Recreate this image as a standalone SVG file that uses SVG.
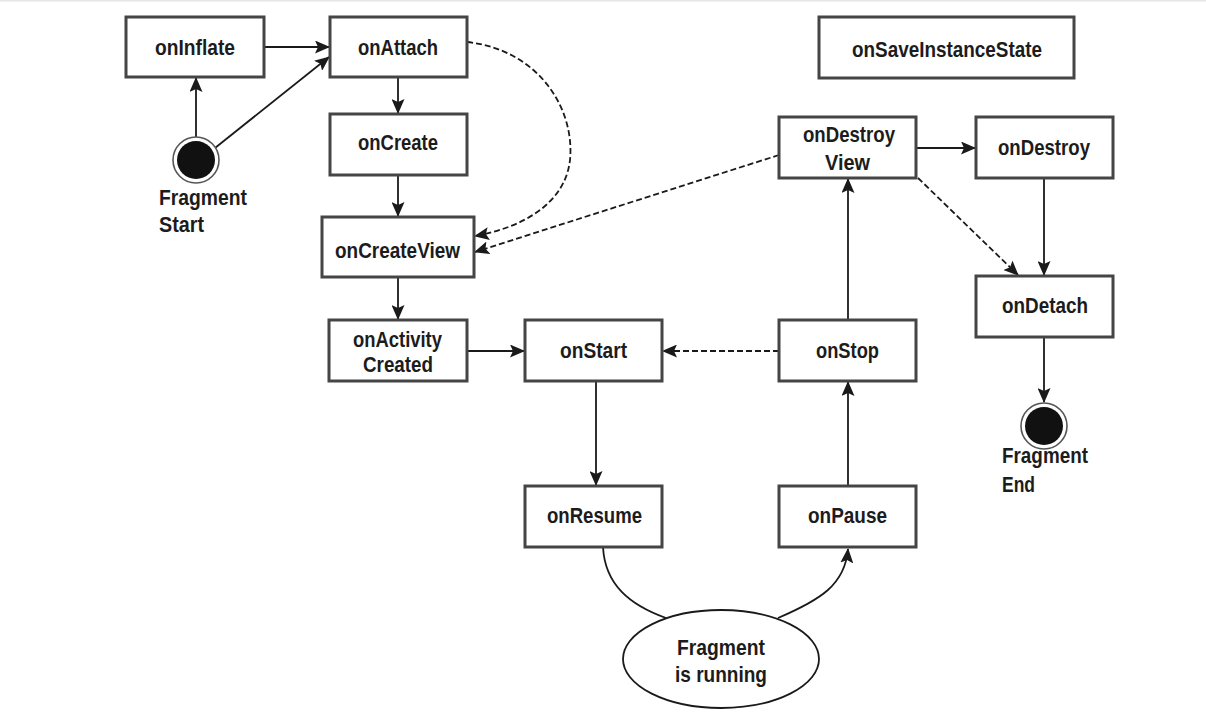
<svg xmlns="http://www.w3.org/2000/svg" width="1206" height="713" viewBox="0 0 1206 713">
  <style>
    .box { fill: #ffffff; stroke: #454545; stroke-width: 3; }
    .lbl { font-family: "Liberation Sans", Arial, sans-serif; font-weight: bold; font-size: 22px; fill: #1c1c1c; }
    .edge { fill: none; stroke: #1a1a1a; stroke-width: 1.8; }
    .dash { stroke-dasharray: 6 3; }
  </style>
  <defs>
    <marker id="arrow" viewBox="0 0 15 13" refX="14" refY="6.5" markerWidth="15" markerHeight="13" markerUnits="userSpaceOnUse" orient="auto">
      <path d="M0,0 L15,6.5 L0,13 L3,6.5 Z" fill="#1a1a1a"/>
    </marker>
  </defs>
  <rect x="0" y="0" width="1206" height="713" fill="#ffffff"/>
  <rect x="0" y="0" width="1206" height="1.5" fill="#e6e6e6"/>

  <!-- connectors -->
  <g id="connectors">
    <line class="edge" x1="264" y1="47" x2="329" y2="47" marker-end="url(#arrow)"/>
    <line class="edge" x1="196" y1="137" x2="196" y2="78" marker-end="url(#arrow)"/>
    <line class="edge" x1="215" y1="148" x2="329" y2="57" marker-end="url(#arrow)"/>
    <line class="edge" x1="398" y1="77" x2="398" y2="113" marker-end="url(#arrow)"/>
    <line class="edge" x1="398" y1="175" x2="398" y2="216" marker-end="url(#arrow)"/>
    <path class="edge dash" d="M467,42 C540,50 575,110 570,160 C565,205 520,228 475,236" marker-end="url(#arrow)"/>
    <line class="edge dash" x1="779" y1="155" x2="475" y2="252" marker-end="url(#arrow)"/>
    <line class="edge" x1="398" y1="277" x2="398" y2="319" marker-end="url(#arrow)"/>
    <line class="edge" x1="467" y1="351" x2="524" y2="351" marker-end="url(#arrow)"/>
    <line class="edge dash" x1="779" y1="351" x2="663" y2="351" marker-end="url(#arrow)"/>
    <line class="edge" x1="596" y1="381" x2="596" y2="485" marker-end="url(#arrow)"/>
    <line class="edge" x1="848" y1="486" x2="848" y2="382" marker-end="url(#arrow)"/>
    <line class="edge" x1="848" y1="320" x2="848" y2="179" marker-end="url(#arrow)"/>
    <line class="edge" x1="916" y1="148" x2="975" y2="148" marker-end="url(#arrow)"/>
    <line class="edge dash" x1="918" y1="178" x2="1018" y2="275" marker-end="url(#arrow)"/>
    <line class="edge" x1="1044" y1="178" x2="1044" y2="275" marker-end="url(#arrow)"/>
    <line class="edge" x1="1044" y1="337" x2="1044" y2="402" marker-end="url(#arrow)"/>
    <path class="edge" d="M603,547 C605,585 630,605 666,618"/>
    <path class="edge" d="M778,618 C820,600 845,585 848,549" marker-end="url(#arrow)"/>
  </g>

  <!-- lifecycle nodes -->
  <g id="node-oninflate">
    <rect class="box" x="126" y="17" width="138" height="60"/>
    <text class="lbl" x="155" y="55" textLength="80" lengthAdjust="spacingAndGlyphs">onInflate</text>
  </g>
  <g id="node-onattach">
    <rect class="box" x="330" y="17" width="137" height="60"/>
    <text class="lbl" x="358" y="55" textLength="80" lengthAdjust="spacingAndGlyphs">onAttach</text>
  </g>
  <g id="node-onsaveinstancestate">
    <rect class="box" x="819" y="17" width="255" height="61"/>
    <text class="lbl" x="852" y="57" textLength="190" lengthAdjust="spacingAndGlyphs">onSaveInstanceState</text>
  </g>
  <g id="node-oncreate">
    <rect class="box" x="330" y="114" width="137" height="61"/>
    <text class="lbl" x="358" y="150" textLength="80" lengthAdjust="spacingAndGlyphs">onCreate</text>
  </g>
  <g id="node-oncreateview">
    <rect class="box" x="322" y="217" width="152" height="60"/>
    <text class="lbl" x="335" y="258" textLength="125" lengthAdjust="spacingAndGlyphs">onCreateView</text>
  </g>
  <g id="node-onactivitycreated">
    <rect class="box" x="329" y="320" width="138" height="61"/>
    <text class="lbl" x="353" y="347" textLength="89" lengthAdjust="spacingAndGlyphs">onActivity</text>
    <text class="lbl" x="363" y="372" textLength="70" lengthAdjust="spacingAndGlyphs">Created</text>
  </g>
  <g id="node-onstart">
    <rect class="box" x="525" y="320" width="137" height="61"/>
    <text class="lbl" x="560" y="358" textLength="67" lengthAdjust="spacingAndGlyphs">onStart</text>
  </g>
  <g id="node-onstop">
    <rect class="box" x="779" y="320" width="137" height="61"/>
    <text class="lbl" x="816" y="358" textLength="63" lengthAdjust="spacingAndGlyphs">onStop</text>
  </g>
  <g id="node-onresume">
    <rect class="box" x="525" y="486" width="137" height="61"/>
    <text class="lbl" x="547" y="523" textLength="95" lengthAdjust="spacingAndGlyphs">onResume</text>
  </g>
  <g id="node-onpause">
    <rect class="box" x="779" y="486" width="137" height="61"/>
    <text class="lbl" x="808" y="523" textLength="79" lengthAdjust="spacingAndGlyphs">onPause</text>
  </g>
  <g id="node-ondestroyview">
    <rect class="box" x="779" y="117" width="137" height="61"/>
    <text class="lbl" x="803" y="142" textLength="92" lengthAdjust="spacingAndGlyphs">onDestroy</text>
    <text class="lbl" x="825" y="170" textLength="45" lengthAdjust="spacingAndGlyphs">View</text>
  </g>
  <g id="node-ondestroy">
    <rect class="box" x="976" y="117" width="137" height="61"/>
    <text class="lbl" x="998" y="155" textLength="92" lengthAdjust="spacingAndGlyphs">onDestroy</text>
  </g>
  <g id="node-ondetach">
    <rect class="box" x="976" y="276" width="137" height="61"/>
    <text class="lbl" x="1002" y="313" textLength="86" lengthAdjust="spacingAndGlyphs">onDetach</text>
  </g>

  <!-- start / end states -->
  <g id="node-fragment-start">
    <circle cx="196" cy="160" r="23" fill="#ffffff" stroke="#555555" stroke-width="1.6"/>
    <circle cx="196" cy="160" r="19" fill="#111111"/>
    <text class="lbl" x="159" y="205" textLength="88" lengthAdjust="spacingAndGlyphs">Fragment</text>
    <text class="lbl" x="159" y="232" textLength="45" lengthAdjust="spacingAndGlyphs">Start</text>
  </g>
  <g id="node-fragment-end">
    <circle cx="1044" cy="426" r="23" fill="#ffffff" stroke="#555555" stroke-width="1.6"/>
    <circle cx="1044" cy="426" r="19" fill="#111111"/>
    <text class="lbl" x="1002" y="463" textLength="86" lengthAdjust="spacingAndGlyphs">Fragment</text>
    <text class="lbl" x="1002" y="492" textLength="33" lengthAdjust="spacingAndGlyphs">End</text>
  </g>
  <g id="node-running">
    <ellipse cx="721" cy="659" rx="98" ry="49" fill="#ffffff" stroke="#1a1a1a" stroke-width="1.8"/>
    <text class="lbl" x="677" y="655" textLength="88" lengthAdjust="spacingAndGlyphs">Fragment</text>
    <text class="lbl" x="675" y="682" textLength="92" lengthAdjust="spacingAndGlyphs">is running</text>
  </g>
</svg>
